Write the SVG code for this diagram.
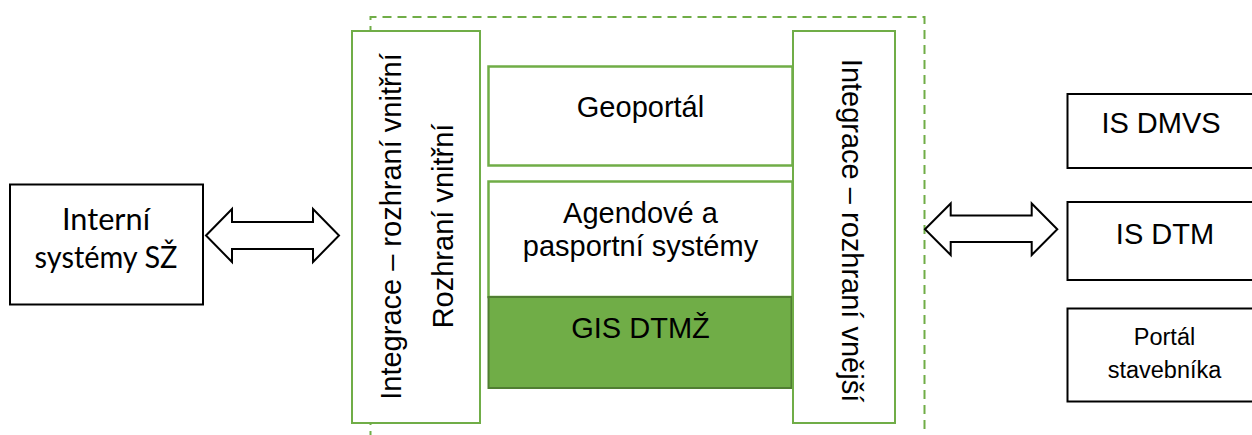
<svg xmlns="http://www.w3.org/2000/svg" width="1252" height="435" viewBox="0 0 1252 435">
  <style>
    .t { font-family: "Liberation Sans", Arial, sans-serif; font-size: 29px; fill: #000; }
    .c { font-family: Lato, "Open Sans", sans-serif; font-size: 31px; fill: #000; }
    .gbox { fill: #fff; stroke: #70ad47; stroke-width: 2.5; }
    .gbox2 { fill: #fff; stroke: #70ad47; stroke-width: 2; }
    .bbox { fill: #fff; stroke: #000; stroke-width: 2; }
    .arrow { fill: #fff; stroke: #000; stroke-width: 2; stroke-linejoin: miter; }
  </style>
  <rect width="1252" height="435" fill="#fff"/>

  <g id="boundary">
    <path d="M370.5,440 L370.5,17 L924.5,17 L924.5,440" fill="none" stroke="#70ad47" stroke-width="2" stroke-dasharray="9,6"/>
  </g>

  <g id="interni">
    <rect class="bbox" x="10" y="184.5" width="193" height="120"/>
    <text class="c" x="106" y="230" text-anchor="middle" textLength="88" lengthAdjust="spacingAndGlyphs">Interní</text>
    <text class="c" x="106" y="268" text-anchor="middle" textLength="143" lengthAdjust="spacingAndGlyphs">systémy SŽ</text>
  </g>

  <g id="integrace-vnitrni">
    <rect class="gbox2" x="352" y="31" width="128" height="392"/>
    <text class="t" transform="translate(401,226.5) rotate(-90)" text-anchor="middle">Integrace – rozhraní vnitřní</text>
    <text class="t" transform="translate(453,226) rotate(-90)" text-anchor="middle">Rozhraní vnitřní</text>
  </g>

  <g id="geoportal">
    <rect class="gbox" x="488.5" y="66.5" width="304" height="99"/>
    <text class="t" x="640.5" y="116.5" text-anchor="middle">Geoportál</text>
  </g>

  <g id="agendove">
    <rect class="gbox" x="488.5" y="181.5" width="304" height="115.5"/>
    <text class="t" x="640.5" y="222.5" text-anchor="middle">Agendové a</text>
    <text class="t" x="640.5" y="255.5" text-anchor="middle">pasportní systémy</text>
  </g>

  <g id="gis-dtmz">
    <rect x="488.5" y="297" width="303" height="91" fill="#70ad47" stroke="#507e32" stroke-width="2"/>
    <text class="t" x="640.5" y="338" text-anchor="middle">GIS DTMŽ</text>
  </g>

  <g id="integrace-vnejsi">
    <rect class="gbox2" x="793" y="31" width="102" height="392"/>
    <text class="t" transform="translate(841.5,230.5) rotate(90)" text-anchor="middle">Integrace – rozhraní vnější</text>
  </g>

  <g id="is-dmvs">
    <rect class="bbox" x="1067.5" y="94" width="200" height="74"/>
    <text class="t" x="1161" y="133" text-anchor="middle">IS DMVS</text>
  </g>

  <g id="is-dtm">
    <rect class="bbox" x="1067.5" y="202" width="200" height="78"/>
    <text class="t" x="1165" y="243.5" text-anchor="middle">IS DTM</text>
  </g>

  <g id="portal-stavebnika">
    <rect class="bbox" x="1067.5" y="308.5" width="200" height="93"/>
    <text class="t" x="1164.5" y="345" text-anchor="middle" style="font-size:23.5px">Portál</text>
    <text class="t" x="1164.5" y="378" text-anchor="middle" style="font-size:23.5px">stavebníka</text>
  </g>

  <g id="connectors">
    <path class="arrow" d="M206,235.5 L232,209 L232,222 L313,222 L313,209 L339,235.5 L313,262 L313,249 L232,249 L232,262 Z"/>
    <path class="arrow" d="M925,229.3 L950.7,203.5 L950.7,215.5 L1031.7,215.5 L1031.7,203.5 L1057.3,229.3 L1031.7,255 L1031.7,242 L950.7,242 L950.7,255 Z"/>
  </g>
</svg>
